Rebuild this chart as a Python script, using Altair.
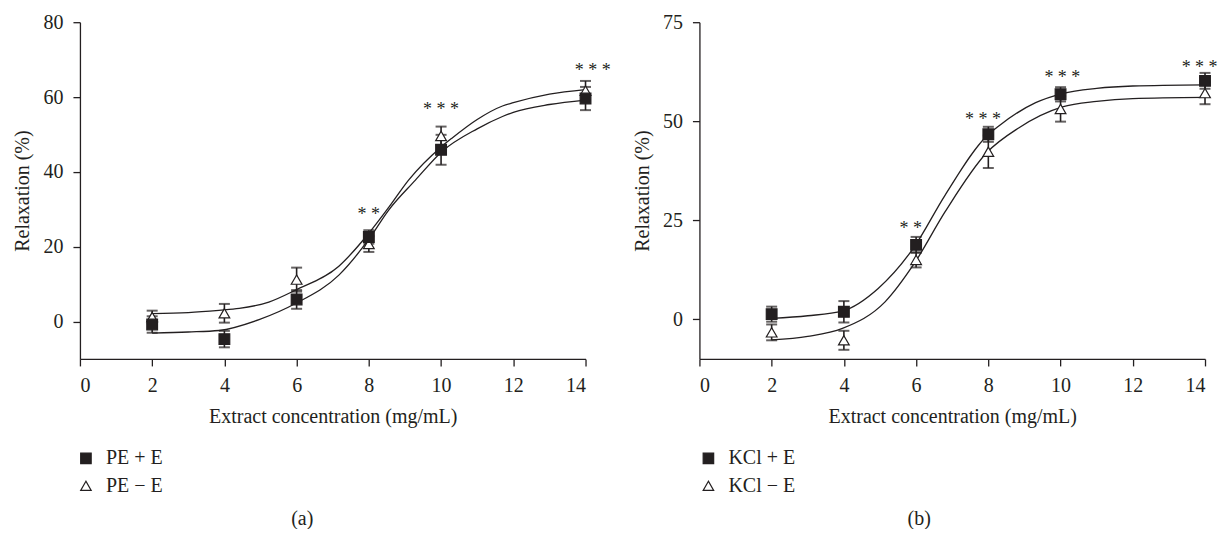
import altair as alt
import pandas as pd

INK = "#231f20"
FONT = "Liberation Serif"

X_PTS = [2, 4, 6, 8, 10, 14]

# Panel (a): PE
PE_PLUS = [-0.8, -4.7, 5.9, 22.6, 45.9, 59.6]
PE_PLUS_ERR = [2.2, 2.2, 2.5, 1.8, 4.0, 3.1]
PE_MINUS = [1.2, 2.2, 11.2, 20.7, 49.6, 61.7]
PE_MINUS_ERR = [1.7, 2.5, 3.2, 2.1, 2.5, 2.6]

PE_PLUS_FIT_X = [2.0, 3.0, 3.85, 4.96, 5.97, 7.17, 8.0, 8.55, 9.29, 10.02, 11.0, 11.7, 12.0, 13.0, 14.0]
PE_PLUS_FIT_Y = [-3.1, -2.8, -2.4, 0.5, 4.8, 12.4, 22.0, 29.8, 37.8, 45.4, 51.5, 54.8, 55.9, 58.0, 59.2]
PE_MINUS_FIT_X = [2.0, 3.0, 3.85, 4.41, 5.23, 5.97, 7.17, 8.0, 8.55, 9.10, 10.02, 10.3, 11.0, 11.7, 12.0, 13.0, 14.0]
PE_MINUS_FIT_Y = [2.1, 2.4, 3.0, 3.5, 5.2, 8.4, 14.8, 23.6, 30.5, 37.8, 46.8, 49.0, 54.0, 57.6, 58.5, 60.8, 62.0]

PE_STAR_X = [8.0, 10.0, 14.2]
PE_STAR_Y = [29.6, 57.7, 68.0]
PE_STAR_T = ["* *", "* * *", "* * *"]

# Panel (b): KCl
KCL_PLUS = [1.3, 1.9, 18.8, 46.7, 56.8, 60.2]
KCL_PLUS_ERR = [1.9, 2.7, 2.0, 1.9, 1.8, 2.0]
KCL_MINUS = [-3.3, -5.3, 15.0, 42.3, 53.1, 57.1]
KCL_MINUS_ERR = [2.0, 2.4, 1.9, 4.1, 3.2, 2.8]

KCL_PLUS_FIT_X = [2.0, 3.0, 3.96, 4.95, 5.95, 6.8, 7.96, 8.29, 9.31, 10.05, 11.0, 12.0, 14.0]
KCL_PLUS_FIT_Y = [0.25, 0.9, 2.1, 7.8, 18.3, 31.3, 46.3, 48.8, 54.7, 57.0, 58.3, 58.9, 59.2]
KCL_MINUS_FIT_X = [2.0, 3.0, 3.96, 5.14, 5.95, 6.8, 7.96, 8.84, 10.05, 11.0, 12.0, 14.0]
KCL_MINUS_FIT_Y = [-5.2, -4.3, -2.3, 4.4, 14.1, 27.1, 42.1, 48.3, 53.6, 55.0, 55.7, 56.0]

KCL_STAR_X = [5.85, 7.85, 10.05, 13.85]
KCL_STAR_Y = [23.7, 51.4, 61.8, 64.4]
KCL_STAR_T = ["* *", "* * *", "* * *", "* * *"]

X_TICKS = [0, 2, 4, 6, 8, 10, 12, 14]
W, H = 506, 337


def panel(labels, plus, plus_err, minus, minus_err, fits, stars, ydom, yticks, caption, legx, capx):
    rows = []
    # triangles first so squares are drawn on top
    for xv, v, e in zip(X_PTS, minus, minus_err):
        rows.append({"x": xv, "y": v, "lo": v - e, "hi": v + e, "s": labels[1]})
    for xv, v, e in zip(X_PTS, plus, plus_err):
        rows.append({"x": xv, "y": v, "lo": v - e, "hi": v + e, "s": labels[0]})
    pts = pd.DataFrame(rows)

    frows = []
    for lab, (fx, fy) in zip(labels, fits):
        for a, b in zip(fx, fy):
            frows.append({"x": a, "y": b, "s": lab})
    fit = pd.DataFrame(frows)

    st = pd.DataFrame({"x": stars[0], "y": stars[1], "t": stars[2]})

    xs = alt.Scale(domain=[0, 14], nice=False, zero=False)
    ys = alt.Scale(domain=ydom, nice=False, zero=False)
    xenc = alt.X("x:Q", scale=xs, axis=alt.Axis(values=X_TICKS, title="Extract concentration (mg/mL)"))
    yenc = alt.Y("y:Q", scale=ys, axis=alt.Axis(values=yticks, title="Relaxation (%)"))

    lines = alt.Chart(fit).mark_line(color=INK, strokeWidth=1.3, interpolate="monotone").encode(
        x=xenc, y=yenc, detail="s:N"
    )
    rules = alt.Chart(pts).mark_rule(color=INK, strokeWidth=1.6).encode(
        x="x:Q", y="lo:Q", y2="hi:Q"
    )
    caps_lo = alt.Chart(pts).mark_tick(color=INK, orient="horizontal", size=11, thickness=2).encode(
        x="x:Q", y="lo:Q"
    )
    caps_hi = alt.Chart(pts).mark_tick(color=INK, orient="horizontal", size=11, thickness=2).encode(
        x="x:Q", y="hi:Q"
    )
    leg = alt.Legend(
        title=None, orient="none", legendX=legx, legendY=426.5, padding=0,
        labelFont=FONT, labelFontSize=20, labelColor=INK, labelOffset=10,
        rowPadding=7.5, symbolSize=110, symbolStrokeColor=INK, symbolStrokeWidth=1.2,
    )
    points = alt.Chart(pts).mark_point(filled=True, size=115, strokeWidth=1.2, opacity=1).encode(
        x="x:Q", y="y:Q",
        shape=alt.Shape("s:N", scale=alt.Scale(domain=labels, range=["square", "triangle-up"]), legend=leg),
        fill=alt.Fill("s:N", scale=alt.Scale(domain=labels, range=[INK, "white"]), legend=leg),
        stroke=alt.Stroke("s:N", scale=alt.Scale(domain=labels, range=[INK, INK]), legend=leg),
    )
    text = alt.Chart(st).mark_text(font=FONT, fontSize=18, color=INK, baseline="middle", dy=4).encode(
        x="x:Q", y="y:Q", text="t:N"
    )
    cap = alt.Chart(pd.DataFrame({"t": [caption]})).mark_text(
        font=FONT, fontSize=20, color=INK, baseline="middle", align="center"
    ).encode(x=alt.value(capx), y=alt.value(497), text="t:N")
    return alt.layer(lines, rules, caps_lo, caps_hi, points, text, cap).properties(width=W, height=H)


pa = panel(["PE + E", "PE \u2212 E"], PE_PLUS, PE_PLUS_ERR, PE_MINUS, PE_MINUS_ERR,
           [(PE_PLUS_FIT_X, PE_PLUS_FIT_Y), (PE_MINUS_FIT_X, PE_MINUS_FIT_Y)],
           (PE_STAR_X, PE_STAR_Y, PE_STAR_T), [-10, 80], [0, 20, 40, 60, 80], "(a)", -4, 222.5)
pb = panel(["KCl + E", "KCl \u2212 E"], KCL_PLUS, KCL_PLUS_ERR, KCL_MINUS, KCL_MINUS_ERR,
           [(KCL_PLUS_FIT_X, KCL_PLUS_FIT_Y), (KCL_MINUS_FIT_X, KCL_MINUS_FIT_Y)],
           (KCL_STAR_X, KCL_STAR_Y, KCL_STAR_T), [-10, 75], [0, 25, 50, 75], "(b)", -1, 220)

chart = alt.hconcat(pa, pb, spacing=114, bounds="flush").resolve_scale(
    x="independent", y="independent", shape="independent", fill="independent", stroke="independent"
).resolve_legend(shape="independent", fill="independent", stroke="independent").properties(
    padding={"left": 5, "top": 4, "right": 0, "bottom": 0}
).configure_view(stroke=None).configure_axis(
    grid=False, domainColor=INK, domainWidth=1.3, tickColor=INK, tickWidth=1.3, tickSize=7,
    labelFont=FONT, labelFontSize=20, labelColor=INK, labelPadding=10,
    titleFont=FONT, titleFontSize=20, titleFontWeight="normal", titleColor=INK,
).configure_axisY(titlePadding=10).configure_axisX(titlePadding=11)

chart.save("out.html", embed_options={"renderer": "svg", "actions": False})
